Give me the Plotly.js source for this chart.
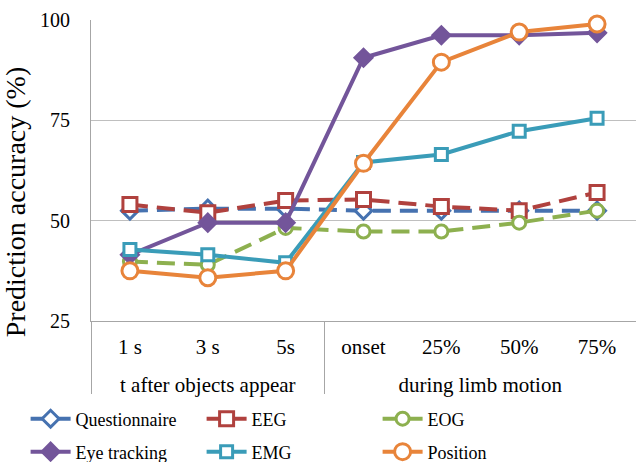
<!DOCTYPE html>
<html>
<head>
<meta charset="utf-8">
<script src="https://cdn.plot.ly/plotly-3.0.1.min.js"></script>
<style>html,body{margin:0;padding:0;background:#fff;} #chart{width:636px;height:462px;}</style>
</head>
<body>
<div id="chart"></div>
<script>
const groups = ['t after objects appear','t after objects appear','t after objects appear','during limb motion','during limb motion','during limb motion','during limb motion'];
const categories = ['1 s','3 s','5s','onset','25%','50%','75%'];

const questionnaire = [52.5, 53, 53, 52.5, 52.5, 52.5, 52.5];
const eeg = [54, 52, 55, 55.3, 53.5, 52.5, 57];
const eog = [39.8, 39, 48.2, 47.3, 47.3, 49.5, 52.5];
const eyeTracking = [41.5, 49.5, 49.5, 90.6, 96.2, 96.2, 96.8];
const emg = [42.8, 41.5, 39.5, 64.5, 66.5, 72.3, 75.5];
const position = [37.5, 35.8, 37.5, 64.3, 89.5, 97, 99];

const yTicks = [25, 50, 75, 100];

// group centres and boundaries derived from the groups array
const groupNames = [...new Set(groups)];
const groupCenters = groupNames.map(g => {
  const idx = groups.map((v,i)=>v===g?i:-1).filter(i=>i>=0);
  return idx.reduce((a,b)=>a+b,0)/idx.length;
});
const groupBounds = [-0.5];
groups.forEach((g,i)=>{ if(i>0 && g!==groups[i-1]) groupBounds.push(i-0.5); });

const font = "'Liberation Serif', 'Times New Roman', serif";

function tr(name, y, color, dash, symbol, size, fill, legend){
  return {
    type:'scatter', mode:'lines+markers', name:name, x:categories, y:y,
    line:{color:color, width:4, dash:dash},
    marker:{symbol:symbol, size:size, color:fill, line:{color:color, width:3}},
    cliponaxis:false, legend:legend
  };
}

const data = [
  tr('Questionnaire', questionnaire, '#4672B0', '18px,9px', 'diamond', 13, '#ffffff', 'legend'),
  tr('EEG', eeg, '#B0413E', '18px,9px', 'square', 14, '#ffffff', 'legend'),
  tr('EOG', eog, '#8DB04F', '18px,9px', 'circle', 13, '#ffffff', 'legend'),
  tr('Eye tracking', eyeTracking, '#73559A', 'solid', 'diamond', 13, '#73559A', 'legend2'),
  tr('EMG', emg, '#3A9CB8', 'solid', 'square', 12, '#ffffff', 'legend2'),
  tr('Position', position, '#E8843A', 'solid', 'circle', 16, '#ffffff', 'legend2'),
  // empty carriers so the group-label axis and the divider axis get drawn
  {type:'scatter', mode:'none', x:groupCenters, y:groupCenters.map(()=>null), xaxis:'x2', yaxis:'y', showlegend:false, hoverinfo:'skip'},
  {type:'scatter', mode:'none', x:groupBounds, y:groupBounds.map(()=>null), xaxis:'x3', yaxis:'y', showlegend:false, hoverinfo:'skip'}
];

const legendBase = {orientation:'h', x:-0.12, xanchor:'left', yanchor:'middle',
  entrywidth:121, itemwidth:40, font:{family:font, size:18, color:'#000'}, bgcolor:'rgba(0,0,0,0)'};

const xr = [-0.5, categories.length-0.5];

const layout = {
  width:636, height:462,
  margin:{l:91, r:0, t:20, b:141, autoexpand:false},
  paper_bgcolor:'#fff', plot_bgcolor:'#fff',
  font:{family:font, color:'#000', size:21},
  showlegend:true,
  legend:Object.assign({}, legendBase, {y:-0.3256}),
  legend2:Object.assign({}, legendBase, {y:-0.435}),
  xaxis:{type:'category', range:xr, showline:true, linecolor:'#A6A6A6', linewidth:1, showgrid:false,
    ticks:'', tickfont:{family:font, size:21}, ticklabelstandoff:7},
  xaxis2:{overlaying:'x', anchor:'y', type:'linear', range:xr, tickvals:groupCenters, ticktext:groupNames,
    showgrid:false, showline:false, zeroline:false, ticks:'', tickfont:{family:font, size:21}, ticklabelstandoff:49},
  xaxis3:{overlaying:'x', anchor:'y', type:'linear', range:xr, tickvals:groupBounds, showticklabels:false,
    showgrid:false, showline:false, zeroline:false, ticks:'outside', ticklen:72, tickwidth:1, tickcolor:'#A6A6A6'},
  yaxis:{range:[25,100], tickvals:yTicks, ticktext:yTicks.map(String), showline:true, linecolor:'#A6A6A6', linewidth:1,
    gridcolor:'#BFBFBF', gridwidth:1, zeroline:false, ticks:'', ticklabelstandoff:16, tickfont:{family:font, size:20},
    title:{text:'Prediction accuracy (%)&nbsp;&nbsp;&nbsp;&nbsp;&nbsp;&nbsp;&nbsp;&nbsp;&nbsp;', font:{family:font, size:28}, standoff:10}}
};

Plotly.newPlot('chart', data, layout, {displayModeBar:false, staticPlot:true});
</script>
</body>
</html>
